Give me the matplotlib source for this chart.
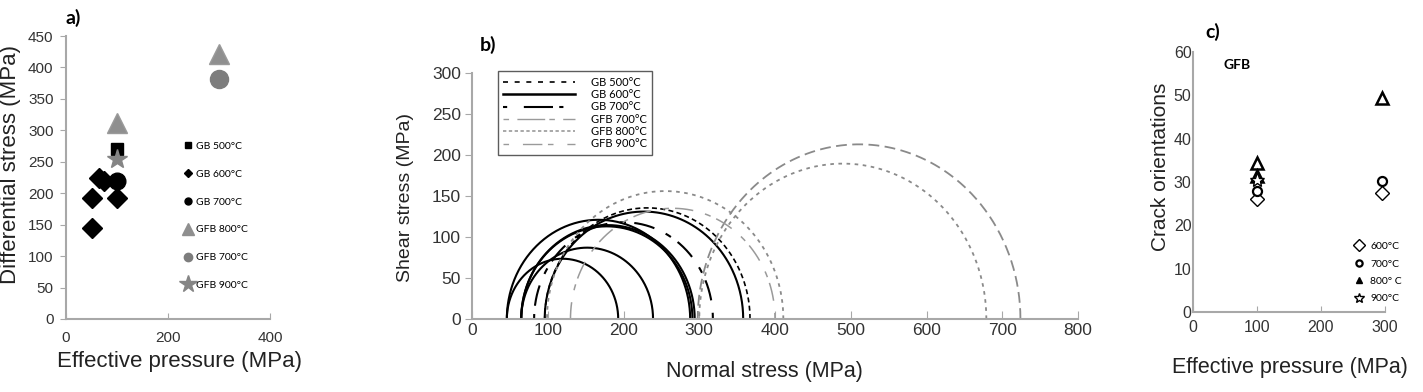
import numpy as np
import matplotlib
matplotlib.use("Agg")
import matplotlib.pyplot as plt
from matplotlib.lines import Line2D

plt.rcParams['font.family'] = ['Liberation Sans', 'DejaVu Sans']

# ---- panel a : differential stress vs effective pressure
a_gb500_x = [100]
a_gb500_y = [270]
a_gb600_x = [50, 50, 65, 75, 100]
a_gb600_y = [145, 193, 224, 220, 193]
a_gb700_x = [100]
a_gb700_y = [220]
a_gfb800_x = [100, 300]
a_gfb800_y = [312, 422]
a_gfb700_x = [300]
a_gfb700_y = [381]
a_gfb900_x = [100]
a_gfb900_y = [254]

# ---- panel b : Mohr circles (sigma3, sigma1)
gb500_s3 = [96]
gb500_s1 = [367]
gb600_s3 = [46, 65, 46, 65, 65, 96]
gb600_s1 = [193, 239, 288, 291, 294, 358]
gb700_s3 = [82]
gb700_s1 = [318]
gfb700_s3 = [298]
gfb700_s1 = [724]
gfb800_s3 = [99, 300]
gfb800_s1 = [411, 679]
gfb900_s3 = [130]
gfb900_s1 = [400]

# ---- panel c : crack orientations
c600_x = [100, 295]
c600_y = [26, 27.5]
c700_x = [100, 295]
c700_y = [28, 30.2]
c800_x = [100, 100, 295]
c800_y = [34.5, 31.5, 49.5]
c900_x = [100]
c900_y = [30.5]

W, H = 1423, 392
fig = plt.figure(figsize=(W / 100, H / 100), dpi=100)


def box(l, t, r, b):
    return [l / W, 1 - b / H, (r - l) / W, (b - t) / H]


spine_col = '#a8a8a8'
lab_col = '#333333'
small_font = ['Lato', 'DejaVu Sans']

# ================= panel a
ax = fig.add_axes(box(66, 36, 270, 319))
ax.plot(a_gb600_x, a_gb600_y, 'D', color='k', ms=10, ls='')
ax.plot(a_gb500_x, a_gb500_y, 's', color='k', ms=9, ls='')
ax.plot(a_gb700_x, a_gb700_y, 'o', color='k', ms=12, ls='')
ax.plot(a_gfb800_x, a_gfb800_y, '^', color='#8f8f8f', mec='#9a9a9a', ms=15, ls='')
ax.plot(a_gfb700_x, a_gfb700_y, 'o', color='#7d7d7d', ms=13, ls='')
ax.plot(a_gfb900_x, a_gfb900_y, '*', color='#858585', ms=15, ls='')
ax.set_xlim(0, 400)
ax.set_ylim(0, 450)
ax.set_xticks([0, 200, 400])
ax.set_yticks(range(0, 451, 50))
for s in ['top', 'right']:
    ax.spines[s].set_visible(False)
for s in ['left', 'bottom']:
    ax.spines[s].set_color(spine_col)
    ax.spines[s].set_linewidth(1.5)
ax.tick_params(axis='y', direction='out', length=4, color=spine_col, labelsize=11, labelcolor=lab_col, pad=5)
ax.tick_params(axis='x', direction='in', length=4, color=spine_col, labelsize=11, labelcolor=lab_col, pad=9)

hand_a = [
    Line2D([], [], marker='s', color='k', ls='', ms=5),
    Line2D([], [], marker='D', color='k', ls='', ms=4),
    Line2D([], [], marker='o', color='k', ls='', ms=5),
    Line2D([], [], marker='^', color='#8f8f8f', ls='', ms=8),
    Line2D([], [], marker='o', color='#7d7d7d', ls='', ms=6),
    Line2D([], [], marker='*', color='#858585', ls='', ms=13),
]
lab_a = ['GB 500°C', 'GB 600°C', 'GB 700°C', 'GFB 800°C', 'GFB 700°C', 'GFB 900°C']
ax.legend(hand_a, lab_a, loc='upper left', bbox_to_anchor=(0.55, 0.645), frameon=False,
          prop={'family': small_font, 'size': 7.5}, labelspacing=1.78, handlelength=0.9,
          handletextpad=0.3, borderpad=0)

fig.text(11 / W, 1 - 165 / H, 'Differential stress (MPa)', rotation=90, ha='center', va='center',
         fontsize=16, color='#222222')
fig.text(180 / W, 1 - 362 / H, 'Effective pressure (MPa)', ha='center', va='center',
         fontsize=16, color='#222222')
fig.text(66 / W, 1 - 18 / H, 'a)', ha='left', va='center', fontsize=14, fontweight='bold',
         family=small_font)

# ================= panel b
bx = fig.add_axes(box(472, 73, 1078, 319))
th = np.linspace(0, np.pi, 300)


def mohr(axx, s3, s1, **kw):
    for lo, hi in zip(s3, s1):
        c = (lo + hi) / 2.0
        r = (hi - lo) / 2.0
        axx.plot(c + r * np.cos(th), r * np.sin(th), **kw)


mohr(bx, gb600_s3, gb600_s1, color='k', lw=1.5, ls='-')
mohr(bx, gb500_s3, gb500_s1, color='k', lw=1.2, ls=(0, (3, 2)))
mohr(bx, gb700_s3, gb700_s1, color='k', lw=1.5, ls=(0, (3, 6, 10, 4)))
mohr(bx, gfb700_s3, gfb700_s1, color='#8a8a8a', lw=1.3, ls=(0, (6, 3)))
mohr(bx, gfb800_s3, gfb800_s1, color='#8a8a8a', lw=1.3, ls=(0, (2, 2.5)))
mohr(bx, gfb900_s3, gfb900_s1, color='#9a9a9a', lw=1.1, ls=(0, (4, 8, 12, 4)))

bx.set_xlim(0, 800)
bx.set_ylim(0, 300)
bx.set_xticks(range(0, 801, 100))
bx.set_yticks(range(0, 301, 50))
for s in ['top', 'right']:
    bx.spines[s].set_visible(False)
for s in ['left', 'bottom']:
    bx.spines[s].set_color(spine_col)
    bx.spines[s].set_linewidth(1.5)
bx.tick_params(axis='y', direction='out', length=5, color=spine_col, labelsize=12.5, labelcolor=lab_col, pad=3)
bx.tick_params(axis='x', direction='in', length=6, color=spine_col, labelsize=12.5, labelcolor=lab_col, pad=3)

hand_b = [
    Line2D([], [], color='k', lw=1.2, ls=(0, (3, 4))),
    Line2D([], [], color='k', lw=1.8, ls='-'),
    Line2D([], [], color='k', lw=1.5, ls=(0, (2, 8, 14, 3))),
    Line2D([], [], color='#9a9a9a', lw=1.0, ls=(0, (4, 6, 20, 3))),
    Line2D([], [], color='#9a9a9a', lw=1.2, ls=(0, (2, 1.5))),
    Line2D([], [], color='#9a9a9a', lw=1.0, ls=(0, (4, 10, 14, 4))),
]
lab_b = ['GB 500°C', 'GB 600°C', 'GB 700°C', 'GFB 700°C', 'GFB 800°C', 'GFB 900°C']
leg = bx.legend(hand_b, lab_b, loc='upper left', bbox_to_anchor=(0.033, 1.03), frameon=True,
                fancybox=False, prop={'family': small_font, 'size': 8}, labelspacing=0.12,
                handlelength=6.5, handletextpad=1.4, borderpad=0.5)
leg.get_frame().set_edgecolor('#333333')
leg.get_frame().set_linewidth(1.0)

fig.text(405 / W, 1 - 197 / H, 'Shear stress (MPa)', rotation=90, ha='center', va='center',
         fontsize=14, color='#222222')
fig.text(764 / W, 1 - 372 / H, 'Normal stress (MPa)', ha='center', va='center',
         fontsize=15.5, color='#222222')
fig.text(480 / W, 1 - 45 / H, 'b)', ha='left', va='center', fontsize=14, fontweight='bold',
         family=small_font)

# ================= panel c
cx = fig.add_axes(box(1193, 52, 1385, 312))
cx.plot(c600_x, c600_y, 'D', mfc='white', mec='k', mew=1.0, ms=7, ls='', clip_on=False)
cx.plot(c700_x, c700_y, 'o', mfc='white', mec='k', mew=1.6, ms=6.5, ls='', clip_on=False)
cx.plot(c800_x, c800_y, '^', mfc='white', mec='k', mew=1.8, ms=8, ls='', clip_on=False)
cx.plot(c900_x, c900_y, '*', mfc='white', mec='k', mew=1.0, ms=11, ls='', clip_on=False)
cx.set_xlim(0, 300)
cx.set_ylim(0, 60)
cx.set_xticks([0, 100, 200, 300])
cx.set_yticks(range(0, 61, 10))
for s in ['top', 'right']:
    cx.spines[s].set_visible(False)
for s in ['left', 'bottom']:
    cx.spines[s].set_color(spine_col)
    cx.spines[s].set_linewidth(1.5)
cx.tick_params(axis='y', direction='in', length=0, labelsize=11.5, labelcolor=lab_col, pad=1)
cx.tick_params(axis='x', direction='in', length=4, color=spine_col, labelsize=11.5, labelcolor=lab_col, pad=6)

hand_c = [
    Line2D([], [], marker='D', mfc='white', mec='k', mew=1.0, ls='', ms=6),
    Line2D([], [], marker='o', mfc='white', mec='k', mew=1.6, ls='', ms=4.5),
    Line2D([], [], marker='^', color='k', ls='', ms=5),
    Line2D([], [], marker='*', mfc='white', mec='k', mew=1.0, ls='', ms=7),
]
lab_c = ['600°C', '700°C', '800° C', '900°C']
cx.legend(hand_c, lab_c, loc='upper left', bbox_to_anchor=(0.81, 0.29), frameon=False,
          prop={'family': small_font, 'size': 7.5}, labelspacing=0.78, handlelength=1.0,
          handletextpad=0.6, borderpad=0)
cx.text(0.23, 0.95, 'GFB', transform=cx.transAxes, ha='center', va='center', fontsize=10,
        fontweight='bold', family=small_font)

fig.text(1160 / W, 1 - 167 / H, 'Crack orientations', rotation=90, ha='center', va='center',
         fontsize=15, color='#222222')
fig.text(1172 / W, 1 - 368 / H, 'Effective pressure (MPa)', ha='left', va='center',
         fontsize=15.5, color='#222222')
fig.text(1205 / W, 1 - 32 / H, 'c)', ha='left', va='center', fontsize=14, fontweight='bold',
         family=small_font)

fig.savefig('out.png', dpi=100)
